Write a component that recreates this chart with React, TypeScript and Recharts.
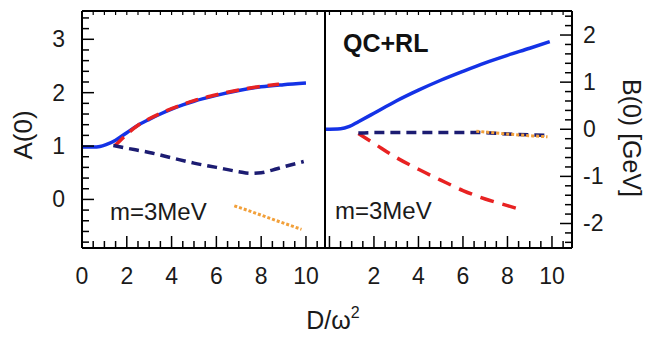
import React from 'react';
import { LineChart, Line, XAxis, YAxis } from 'recharts';

const W = 645;
const H = 337;
const FONT = '"Liberation Sans", Arial, Helvetica, sans-serif';

// ---- A(0) panel (left) ----
const aSolidD = [0, 0.5, 0.8, 1.1, 1.5, 2, 2.5, 3, 3.5, 4, 4.5, 5, 6, 7, 8, 9, 10];
const aSolidV = [0.98, 0.98, 0.99, 1.03, 1.11, 1.25, 1.39, 1.5, 1.6, 1.69, 1.77, 1.84, 1.95, 2.04, 2.11, 2.15, 2.18];
const aRedD = [1.45, 1.7, 2, 2.5, 3, 4, 5, 6, 7, 8, 8.8];
const aRedV = [1.0, 1.1, 1.22, 1.39, 1.51, 1.7, 1.85, 1.96, 2.05, 2.12, 2.16];
const aNavyD = [1.4, 2, 3, 4, 5, 6, 7, 7.5, 8, 8.5, 9, 9.9];
const aNavyV = [1.01, 0.96, 0.88, 0.78, 0.68, 0.6, 0.52, 0.49, 0.5, 0.55, 0.61, 0.71];
const aOrangeD = [6.8, 7.5, 8.5, 9.8];
const aOrangeV = [-0.12, -0.22, -0.37, -0.56];

// ---- B(0) panel (right) ----
const bSolidD = [-0.2, 0.5, 0.9, 1.3, 2, 3, 4, 5, 6, 7, 8, 9, 9.9];
const bSolidV = [0, 0.01, 0.06, 0.16, 0.34, 0.6, 0.83, 1.04, 1.23, 1.41, 1.57, 1.72, 1.86];
const bRedD = [1.3, 2, 3, 4, 5, 6, 7, 8, 8.7];
const bRedV = [-0.09, -0.3, -0.6, -0.85, -1.08, -1.3, -1.48, -1.62, -1.72];
const bNavyD = [1.3, 2, 4, 6, 6.6, 8, 9.8];
const bNavyV = [-0.08, -0.07, -0.07, -0.07, -0.07, -0.1, -0.13];
const bOrangeD = [6.6, 7.5, 8.5, 9.8];
const bOrangeV = [-0.04, -0.08, -0.12, -0.16];

// ---- axis ticks ----
const aMajorY = [0, 1, 2, 3];
const bMajorY = [-2, -1, 0, 1, 2];
const majorX = [0, 2, 4, 6, 8, 10];
const aLabelX = [0, 2, 4, 6, 8, 10];
const bLabelX = [2, 4, 6, 8, 10];

const range = (a: number, b: number, s: number) =>
  Array.from({ length: Math.round((b - a) / s) + 1 }, (_, i) => +(a + i * s).toFixed(2));

const aTicksY = range(-0.8, 3.4, 0.2);
const bTicksY = range(-2.4, 2.4, 0.2);
const ticksX = range(0, 10.5, 0.5);

const zip = (d: number[], v: number[]) => d.map((x, i) => ({ d: x, v: v[i] }));

const COLORS = {
  blue: '#1432e6',
  red: '#e82222',
  navy: '#1c1c72',
  orange: '#f2a03a',
};

const has = (arr: number[], v: number) => arr.some((m) => Math.abs(m - v) < 1e-6);

const MAJOR_LEN = 12;
const MINOR_LEN = 7;

const textStyle = { fontFamily: FONT, fontSize: 23, fill: '#1a1a1a' };

function leftTick(majors: number[], labels: number[]) {
  return (props: any) => {
    const { x, y, payload } = props;
    const v = payload.value;
    const len = has(majors, v) ? MAJOR_LEN : MINOR_LEN;
    return (
      <g>
        <line x1={x} y1={y} x2={x + len} y2={y} stroke="#000" strokeWidth={1.5} />
        {has(labels, v) && (
          <text x={x - 17} y={y} textAnchor="end" dominantBaseline="central" style={textStyle}>
            {v}
          </text>
        )}
      </g>
    );
  };
}

function rightTick(majors: number[], labels: number[]) {
  return (props: any) => {
    const { x, y, payload } = props;
    const v = payload.value;
    const len = has(majors, v) ? MAJOR_LEN : MINOR_LEN;
    return (
      <g>
        <line x1={x} y1={y} x2={x - len} y2={y} stroke="#000" strokeWidth={1.5} />
        {has(labels, v) && (
          <text x={x + 11} y={y} textAnchor="start" dominantBaseline="central" style={textStyle}>
            {v}
          </text>
        )}
      </g>
    );
  };
}

function bottomTick(majors: number[], labels: number[]) {
  return (props: any) => {
    const { x, y, payload } = props;
    const v = payload.value;
    const len = has(majors, v) ? MAJOR_LEN : MINOR_LEN;
    return (
      <g>
        <line x1={x} y1={y} x2={x} y2={y - len} stroke="#000" strokeWidth={1.5} />
        {has(labels, v) && (
          <text x={x} y={y + 36} textAnchor="middle" style={textStyle}>
            {v}
          </text>
        )}
      </g>
    );
  };
}

const topTick = (props: any) => {
  const { x, y } = props;
  return <line x1={x} y1={y} x2={x} y2={y + 4} stroke="#000" strokeWidth={1.2} />;
};

const axisLine = { stroke: '#000', strokeWidth: 2 };

const aDomX: [number, number] = [0, 10.85];
const aDomY: [number, number] = [-0.91, 3.53];
const bDomX: [number, number] = [-0.2, 10.9];
const bDomY: [number, number] = [-2.52, 2.51];

const lineProps = {
  dataKey: 'v',
  dot: false,
  activeDot: false,
  isAnimationActive: false,
  type: 'monotone' as const,
};

export default function App() {
  return (
    <div style={{ position: 'absolute', left: 0, top: 0, width: W, height: H, background: '#fff' }}>
      {/* A(0) */}
      <div style={{ position: 'absolute', left: 0, top: 0 }}>
        <LineChart width={W} height={H} margin={{ top: 10, right: 319, bottom: 49, left: 22 }}>
          <XAxis
            dataKey="d"
            type="number"
            domain={aDomX}
            allowDataOverflow
            ticks={ticksX}
            interval={0}
            height={40}
            tickSize={0}
            tickMargin={0}
            tickLine={false}
            axisLine={axisLine}
            tick={bottomTick(majorX, aLabelX)}
          />
          <XAxis
            xAxisId="top"
            orientation="top"
            dataKey="d"
            type="number"
            domain={aDomX}
            allowDataOverflow
            ticks={ticksX}
            interval={0}
            height={1}
            tickSize={0}
            tickMargin={0}
            tickLine={false}
            axisLine={axisLine}
            tick={topTick}
          />
          <YAxis
            type="number"
            domain={aDomY}
            allowDataOverflow
            ticks={aTicksY}
            interval={0}
            width={60}
            tickSize={0}
            tickMargin={0}
            tickLine={false}
            axisLine={axisLine}
            tick={leftTick(aMajorY, aMajorY)}
          />
          <YAxis
            yAxisId="edge"
            orientation="right"
            type="number"
            domain={aDomY}
            width={1}
            tick={false}
            tickLine={false}
            axisLine={axisLine}
          />
          <Line {...lineProps} data={zip(aSolidD, aSolidV)} stroke={COLORS.blue} strokeWidth={3.5} />
          <Line {...lineProps} data={zip(aRedD, aRedV)} stroke={COLORS.red} strokeWidth={3.5} strokeDasharray="13 8" />
          <Line {...lineProps} data={zip(aNavyD, aNavyV)} stroke={COLORS.navy} strokeWidth={3.5} strokeDasharray="10 6" />
          <Line {...lineProps} data={zip(aOrangeD, aOrangeV)} stroke={COLORS.orange} strokeWidth={3} strokeDasharray="3 2" />
        </LineChart>
      </div>

      {/* B(0) */}
      <div style={{ position: 'absolute', left: 0, top: 0 }}>
        <LineChart width={W} height={H} margin={{ top: 10, right: 13, bottom: 49, left: 324 }}>
          <XAxis
            dataKey="d"
            type="number"
            domain={bDomX}
            allowDataOverflow
            ticks={ticksX}
            interval={0}
            height={40}
            tickSize={0}
            tickMargin={0}
            tickLine={false}
            axisLine={axisLine}
            tick={bottomTick(majorX, bLabelX)}
          />
          <XAxis
            xAxisId="top"
            orientation="top"
            dataKey="d"
            type="number"
            domain={bDomX}
            allowDataOverflow
            ticks={ticksX}
            interval={0}
            height={1}
            tickSize={0}
            tickMargin={0}
            tickLine={false}
            axisLine={axisLine}
            tick={topTick}
          />
          <YAxis
            yAxisId="edge"
            type="number"
            domain={bDomY}
            width={1}
            tick={false}
            tickLine={false}
            axisLine={axisLine}
          />
          <YAxis
            orientation="right"
            type="number"
            domain={bDomY}
            allowDataOverflow
            ticks={bTicksY}
            interval={0}
            width={60}
            tickSize={0}
            tickMargin={0}
            tickLine={false}
            axisLine={axisLine}
            tick={rightTick(bMajorY, bMajorY)}
          />
          <Line {...lineProps} data={zip(bSolidD, bSolidV)} stroke={COLORS.blue} strokeWidth={3.5} />
          <Line {...lineProps} data={zip(bRedD, bRedV)} stroke={COLORS.red} strokeWidth={3.5} strokeDasharray="14 9" />
          <Line {...lineProps} data={zip(bNavyD, bNavyV)} stroke={COLORS.navy} strokeWidth={3.5} strokeDasharray="10 6" />
          <Line {...lineProps} data={zip(bOrangeD, bOrangeV)} stroke={COLORS.orange} strokeWidth={3} strokeDasharray="3 2" />
        </LineChart>
      </div>

      {/* titles and annotations */}
      <svg width={W} height={H} style={{ position: 'absolute', left: 0, top: 0, pointerEvents: 'none' }}>
        <text
          x={23}
          y={135}
          transform="rotate(-90 23 135)"
          textAnchor="middle"
          dominantBaseline="central"
          style={{ fontFamily: FONT, fontSize: 26, fill: '#1a1a1a' }}
        >
          A(0)
        </text>
        <text
          x={632}
          y={138}
          transform="rotate(90 632 138)"
          textAnchor="middle"
          dominantBaseline="central"
          style={{ fontFamily: FONT, fontSize: 25, fill: '#1a1a1a' }}
        >
          B(0) [GeV]
        </text>
        <text x={333} y={329} textAnchor="middle" style={{ fontFamily: FONT, fontSize: 25, fill: '#1a1a1a' }}>
          D/ω<tspan dy={-11} fontSize={16}>2</tspan>
        </text>
        <text x={343} y={52} style={{ fontFamily: FONT, fontSize: 25, fontWeight: 'bold', fill: '#111' }}>
          QC+RL
        </text>
        <text x={110} y={220} style={{ fontFamily: FONT, fontSize: 24, fill: '#1a1a1a' }}>
          m=3MeV
        </text>
        <text x={335} y={219} style={{ fontFamily: FONT, fontSize: 24, fill: '#1a1a1a' }}>
          m=3MeV
        </text>
      </svg>
    </div>
  );
}
